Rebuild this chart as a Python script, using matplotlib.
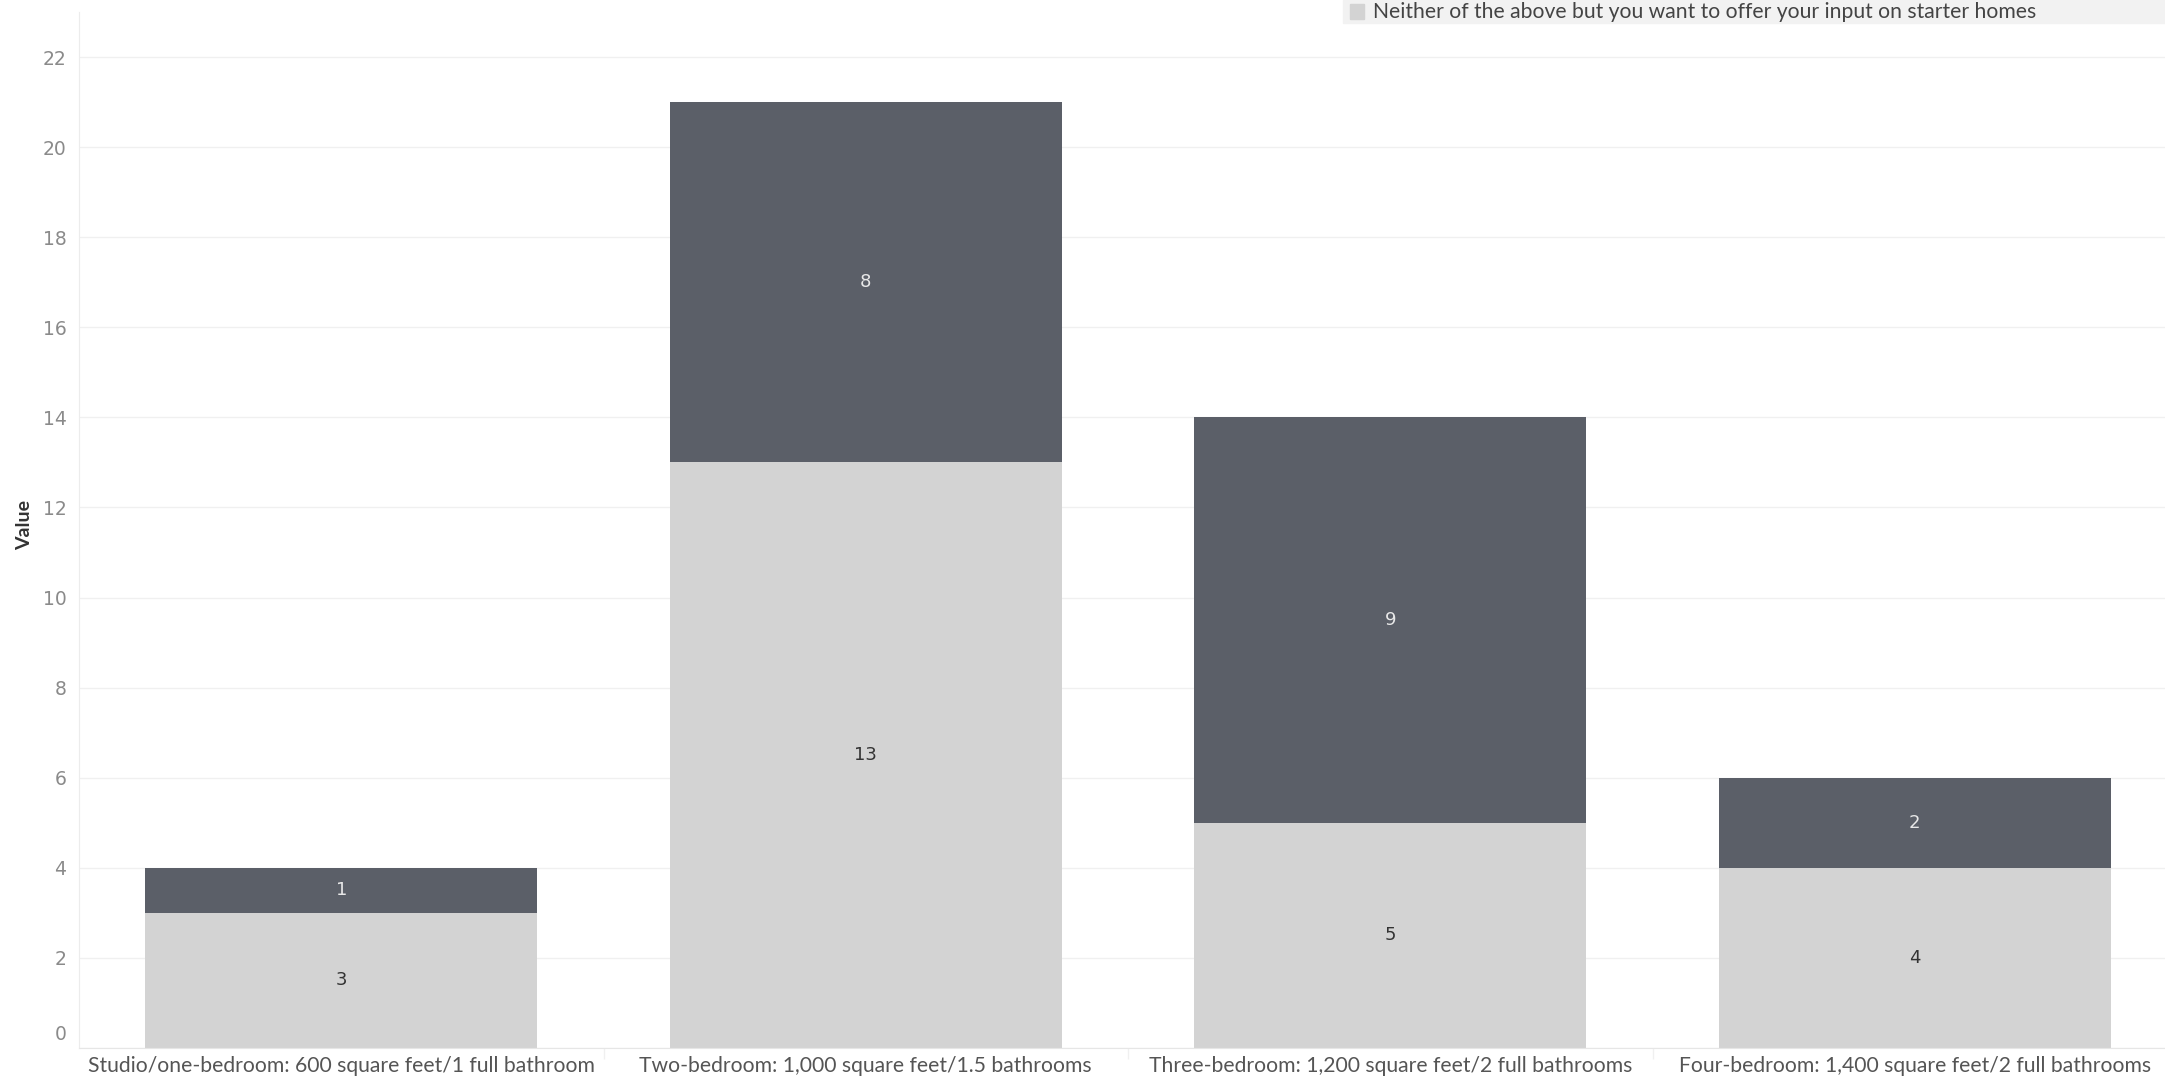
import matplotlib.pyplot as plt
import matplotlib.transforms as mtransforms
import numpy as np

# data
categories = ['Studio/one-bedroom: 600 square feet/1 full bathroom',
              'Two-bedroom: 1,000 square feet/1.5 bathrooms',
              'Three-bedroom: 1,200 square feet/2 full bathrooms',
              'Four-bedroom: 1,400 square feet/2 full bathrooms']
neither_vals = [3, 13, 5, 4]
other_vals = [1, 8, 9, 2]
legend_label = 'Neither of the above but you want to offer your input on starter homes'
y_ticks = [0, 2, 4, 6, 8, 10, 12, 14, 16, 18, 20, 22]

light = '#d3d3d3'
dark = '#5b5f68'
narrow = ['Lato', 'DejaVu Sans']

fig = plt.figure(figsize=(21.65, 10.77), dpi=100)
ax = fig.add_axes([79 / 2165, 29 / 1077, (2165 - 79) / 2165, (1048 - 12) / 1077])

x = np.arange(len(categories))
w = 0.748
ax.bar(x, neither_vals, width=w, color=light, zorder=2)
ax.bar(x, other_vals, width=w, bottom=neither_vals, color=dark, zorder=2)

for i in range(len(categories)):
    ax.text(x[i], neither_vals[i] / 2, str(neither_vals[i]), ha='center', va='center',
            fontsize=13, color='#333333', zorder=3)
    ax.text(x[i], neither_vals[i] + other_vals[i] / 2, str(other_vals[i]), ha='center',
            va='center', fontsize=13, color='#e8e8e8', zorder=3)

ax.set_xlim(-0.5, 3.477)
ax.set_ylim(0, 23.0)
ax.set_yticks(y_ticks)
ax.set_yticklabels([str(t) for t in y_ticks], fontsize=13.5, color='#8a8a8a')
ax.set_xticks(x)
ax.set_xticklabels(categories, fontsize=15.2, color='#555555', family=narrow)
ax.set_xticks([0.5, 1.5, 2.5], minor=True)
ax.tick_params(axis='x', which='major', length=0, pad=6)
ax.tick_params(axis='x', which='minor', length=8, color='#f0f0f0', width=1)
ax.tick_params(axis='y', length=0, pad=9)
ax.grid(axis='y', color='#f0f0f0', linewidth=1, zorder=0)

# the zero label sits a bit above its line, as in the original
zero_lab = ax.get_yticklabels()[0]
zero_lab.set_transform(zero_lab.get_transform() +
                       mtransforms.ScaledTranslation(0, 0.15, fig.dpi_scale_trans))

for s in ['top', 'right']:
    ax.spines[s].set_visible(False)
ax.spines['left'].set_color('#ececec')
ax.spines['bottom'].set_color('#e6e6e6')

fig.text(25 / 2165, 1 - 525 / 1077, 'Value', rotation=90, ha='center', va='center',
         fontsize=14, color='#333333', family=narrow, fontweight='bold')

# legend strip (partly cropped, top right)
fig.patches.append(plt.Rectangle((1343 / 2165, 1 - 23 / 1077), 1, 23 / 1077,
                                 transform=fig.transFigure, color='#f2f2f2', zorder=0))
fig.patches.append(plt.Rectangle((1350 / 2165, 1 - 19 / 1077), 14 / 2165, 15 / 1077,
                                 transform=fig.transFigure, color=light, zorder=1))
fig.text(1373 / 2165, 1 - 12 / 1077, legend_label, ha='left', va='center',
         fontsize=15.2, color='#444444', family=narrow)

fig.savefig('out.png', dpi=100)
